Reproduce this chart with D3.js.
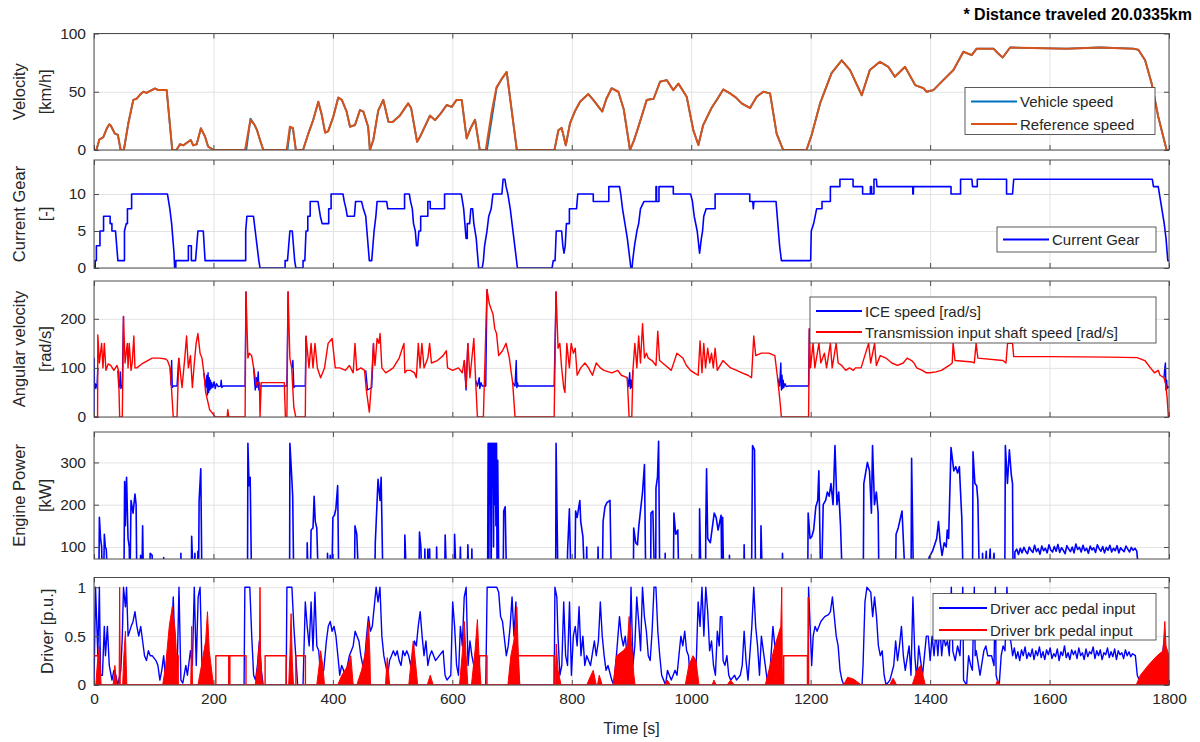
<!DOCTYPE html>
<html>
<head>
<meta charset="utf-8">
<script src="https://cdn.jsdelivr.net/npm/d3@7"></script>
<style>
  body { margin: 0; background: #fff; }
  svg { font-family: "Liberation Sans", Arial, Helvetica, sans-serif; }
</style>
</head>
<body>
<svg id="chart" width="1200" height="742"></svg>
<script>
// ---- tick labels ----
const timeTicks = [0, 200, 400, 600, 800, 1000, 1200, 1400, 1600, 1800];
const velTicks = [0, 50, 100];
const gearTicks = [0, 5, 10];
const omegaTicks = [0, 100, 200];
const powerTicks = [100, 200, 300];
const pedalTicks = [0, 0.5, 1];

// ---- series, [time s, value] ----
const refSpeed = [[0,0],[4,0],[9,9],[15.6,11],[21,18],[25.5,22],[28,21],[35,14],[40,13],[44.6,0],[50,0],[57.5,23],[65.8,43],[71.4,44],[78,48],[82.6,50],[88,49],[95,51],[102,52.8],[108,51.4],[121.7,51.4],[131,0],[138,0],[144,5],[149.6,4],[155,6],[162,8.6],[166,4],[172,5],[179,18.6],[186,11.4],[191,3],[200,0],[253,0],[262,26],[269,21.4],[273,17],[278,8.6],[283.5,0],[322.6,0],[328,20],[333,19],[338,0],[350,0],[359,14.3],[367,25.7],[375.6,41.4],[381,31],[387,14.9],[392,16],[400.7,28.6],[409,45],[415,43],[423,32.9],[428.7,20],[437,21.4],[445.4,34.3],[451,33],[459,20],[462,0],[467.7,8.6],[476,34],[484.4,43],[493,24.3],[500,24],[512,29.5],[526,40],[531,36],[541,7],[546,11.4],[562.6,29.5],[571,25.7],[580,31],[590.6,38.6],[599,37],[607,43],[615.7,43],[624,10],[630,18],[638,26],[646,0],[656,0],[666,32.9],[674,54],[682.7,61],[691,67],[708,0],[771,0],[777.6,17],[783,19],[790,4],[797,22.8],[805,33],[813.8,41.4],[827.7,48],[836,43],[845,37],[851,33],[858,44],[866.8,53],[878,50],[887,35],[897.5,0],[904,8],[911,19],[925.5,43],[937,44],[947.8,58.6],[959,60],[970,51.4],[978.5,57],[992.4,45.7],[1003.5,17],[1012,4.3],[1020,21.4],[1034,36],[1044,44],[1053.7,52],[1065,48.6],[1075,45],[1084.5,40],[1098.5,36],[1109.6,45.7],[1120.7,50],[1132,48.6],[1143,14],[1154,0],[1193,0],[1201.7,13],[1215.7,40],[1235,66],[1252,77],[1266,68.6],[1285.5,47],[1299,68.6],[1316,75.7],[1330,71.4],[1341,62.9],[1358,71.4],[1375,55.7],[1389,53],[1394,50],[1405.5,51.4],[1422,60],[1439,68.6],[1455.7,84.3],[1469.6,81.4],[1478,87],[1506,87],[1514,82.9],[1521.5,79.4],[1534,88],[1573,87.5],[1628.7,87],[1684.5,88],[1740,87],[1748.7,86],[1760,77],[1771,57],[1782,28.6],[1796,0],[1800,0]];

const vehicleSpeed = [[0,0],[4,0],[9,9],[15.6,11],[21,18],[25.5,22],[28,21],[35,14],[40,13],[44.6,0],[50,0],[57.5,23],[65.8,43],[71.4,44],[78,48],[82.6,50],[88,49],[95,51],[102,52.8],[108,51.4],[121.7,51.4],[131,0],[138,0],[144,5],[149.6,4],[155,6],[162,8.6],[166,4],[172,5],[179,18.6],[186,11.4],[191,3],[200,0],[255,0],[262,27],[269,21.4],[273,17],[278,8.6],[283.5,0],[324,0],[328.5,19],[333,19],[338,0],[350,0],[359,14.3],[367,25.7],[375.6,41.4],[381,31],[387,14.9],[392,16],[400.7,28.6],[409,45],[415,43],[423,32.9],[428.7,20],[437,21.4],[445.4,34.3],[451,33],[459,20],[462,0],[467.7,8.6],[476,34],[484.4,43],[493,24.3],[500,24],[512,29.5],[526,40],[531,36],[541,7],[546,11.4],[562.6,29.5],[571,25.7],[580,31],[590.6,38.6],[599,37],[607,43],[615.7,43],[624,10],[630,18],[638,26],[646,0],[658,0],[667,30],[674,53],[682.7,61],[691,67],[708,0],[771,0],[777.6,17],[783,19],[790,4],[797,22.8],[805,33],[813.8,41.4],[827.7,48],[836,43],[845,37],[851,33],[858,44],[866.8,53],[878,50],[887,35],[897.5,0],[904,8],[911,19],[925.5,43],[937,44],[947.8,58.6],[959,60],[970,51.4],[978.5,57],[992.4,45.7],[1003.5,17],[1012,4.3],[1020,21.4],[1034,36],[1044,44],[1053.7,52],[1065,48.6],[1075,45],[1084.5,40],[1098.5,36],[1109.6,45.7],[1120.7,50],[1132,48.6],[1143,14],[1154,0],[1193,0],[1201.7,13],[1215.7,40],[1235,66],[1252,77],[1266,68.6],[1285.5,47],[1299,68.6],[1316,75.7],[1330,71.4],[1341,62.9],[1358,71.4],[1375,55.7],[1389,53],[1394,50],[1405.5,51.4],[1422,60],[1439,68.6],[1455.7,84.3],[1469.6,81.4],[1478,87],[1506,87],[1514,82.9],[1521.5,79.4],[1534,88],[1573,87.5],[1628.7,87],[1684.5,88],[1740,87],[1748.7,86],[1760,77],[1771,57],[1782,28.6],[1796,0],[1800,0]];

const currentGear = [[0,0],[2,0],[2,1],[4,1],[4,3],[10,3],[10,5],[16,5],[16,7],[27,7],[27,6],[30,6],[30,5],[36,5],[38,3],[40,1],[51,1],[51,5],[54,6],[56,6],[56,8],[63,8],[63,10],[123,10],[127,8],[130,6],[132,4],[134,2],[135,0],[137,0],[137,1],[158,1],[158,3],[163,3],[163,1],[170,1],[172,3],[174,5],[183,5],[186,1],[254,1],[254,5],[256,7],[267,7],[270,5],[273,3],[276,1],[278,0],[320,0],[320,1],[324,1],[326,3],[328,5],[332,5],[334,3],[336,1],[338,0],[350,0],[350,1],[353,1],[355,5],[358,5],[358,7],[362,7],[362,9],[375,9],[377,8],[379,7],[382,6],[393,6],[393,8],[397,8],[397,10],[417,10],[419,9],[422,8],[424,7],[436,7],[438,9],[448,9],[451,8],[455,7],[457,5],[459,3],[461,1],[465,1],[467,3],[469,5],[472,7],[474,9],[490,9],[492,8],[520,8],[520,10],[528,10],[530,9],[533,8],[535,6],[538,5],[540,3],[542,3],[544,5],[547,5],[547,7],[559,7],[559,9],[563,9],[563,8],[587,8],[587,10],[615,10],[617,9],[619,8],[621,6],[623,4],[625,4],[625,6],[629,6],[631,8],[634,8],[636,6],[640,4],[642,2],[644,0],[650,0],[652,1],[654,3],[658,5],[661,7],[665,8],[668,10],[683,10],[685,12],[688,12],[690,11],[693,10],[697,8],[700,6],[703,4],[706,2],[709,0],[767,0],[769,1],[772,1],[774,5],[783,5],[785,3],[787,2],[789,3],[791,6],[796,6],[796,8],[808,8],[810,10],[836,10],[836,9],[862,9],[862,11],[880,11],[882,10],[885,8],[889,6],[893,4],[896,2],[899,0],[901,0],[902,1],[905,3],[909,5],[912,6],[915,8],[921,9],[941,9],[941,11],[942,11],[942,9],[946,9],[946,11],[970,11],[970,10],[999,10],[1002,9],[1005,7],[1010,5],[1014,2],[1017,4],[1019,5],[1021,7],[1025,8],[1040,8],[1040,10],[1098,10],[1098,9],[1103,9],[1104,8],[1105,9],[1142,9],[1145,6],[1148,3],[1151,1],[1200,1],[1201,5],[1205,6],[1210,8],[1219,8],[1219,9],[1233,9],[1233,11],[1249,11],[1249,12],[1271,12],[1271,11],[1287,11],[1287,10],[1300,10],[1300,11],[1302,11],[1302,10],[1306,10],[1306,12],[1310,12],[1311,11],[1371,11],[1371,10],[1372,10],[1372,11],[1435,11],[1435,10],[1451,10],[1451,12],[1470,12],[1471,11],[1479,11],[1479,12],[1528,12],[1528,10],[1538,10],[1540,12],[1772,12],[1774,11],[1782,11],[1784,10],[1788,8],[1792,6],[1795,4],[1798,1],[1800,1]];

const shaftSpeed = [[0,0],[6,0],[6.4,167],[9,110],[12.8,150],[15,100],[17.3,150],[20,95],[23.7,108],[28,105],[33.3,95],[38.5,105],[41,95],[43,0],[47.4,0],[49.4,205],[52,110],[55.8,150],[57,100],[59,150],[62,95],[64,110],[66.7,165],[68.6,100],[71.8,100],[80,108],[90,115],[97.4,120],[110,120],[120,118],[123,115],[127.6,100],[132.7,0],[139,0],[142,120],[147.4,60],[152,120],[155,165],[158,100],[161.5,125],[164.7,60],[168,110],[171,150],[174,170],[177.6,130],[180.8,120],[184,90],[187,50],[193.6,15],[200,5],[203,0],[223,0],[224,15],[225.6,0],[253,0],[254.5,255],[257.7,120],[260,130],[264,125],[267.3,100],[271.8,65],[273.7,70],[277,70],[278,0],[280,70],[318.6,70],[320.5,0],[323,0],[325,255],[328,120],[331,100],[334.6,20],[337.8,0],[353.8,0],[355,165],[360,100],[363.5,150],[366.7,100],[370,150],[374,100],[379.5,80],[386,100],[392,150],[398.7,160],[404,100],[411.5,100],[421,95],[427.6,105],[434,90],[437,150],[440,95],[446.8,100],[453,95],[456,55],[461,10],[464,60],[468,150],[470.5,105],[474,160],[477,150],[479,170],[482,100],[488.5,90],[495,95],[501,100],[511,120],[519,150],[520.5,90],[523.7,95],[530,95],[536.5,90],[539.7,80],[543,150],[546,100],[549,150],[552.6,100],[559,120],[562,150],[565,110],[575,115],[584.6,125],[590,135],[592,100],[600.6,95],[610,100],[616.7,90],[620,115],[623,60],[626,150],[629.5,80],[636,160],[639,75],[642,0],[652,0],[658,260],[662,230],[665,220],[668,210],[671,180],[674,170],[677.6,125],[684,135],[690,150],[695.5,120],[698.7,90],[701,70],[705,0],[770.5,0],[773.7,255],[777,140],[780,150],[783,100],[786.5,60],[788.5,50],[791.7,150],[796,100],[799,150],[802.6,130],[805.8,140],[809,85],[815,100],[822,110],[828,100],[834.6,85],[841,110],[847.8,100],[854,95],[867,90],[877,95],[883,85],[892.8,80],[896,0],[900.5,0],[902.4,95],[905.6,150],[909,100],[912,165],[915,110],[918.5,190],[921.7,120],[925,130],[928,120],[934.5,115],[941,105],[944,175],[947,115],[957,105],[966.6,95],[976,130],[986,120],[992,105],[998.7,95],[1005,90],[1011.6,85],[1014.8,155],[1018,90],[1021,150],[1024,100],[1027.6,140],[1031,110],[1034,130],[1037,100],[1040,140],[1043.7,95],[1053,115],[1066,100],[1076,95],[1085,90],[1095,85],[1101,80],[1104.7,165],[1108,125],[1117.5,130],[1130,130],[1140,125],[1144.5,80],[1148,40],[1151,0],[1196.5,0],[1197.8,180],[1199.7,100],[1204,150],[1207,100],[1213.8,150],[1217,110],[1223,130],[1226.6,100],[1233,150],[1236,100],[1242.7,150],[1246,110],[1252,105],[1258.7,95],[1265,100],[1271.6,95],[1275,100],[1284.4,100],[1297,150],[1300.5,110],[1307,150],[1310,105],[1316.5,125],[1326,120],[1335.8,110],[1345.4,105],[1355,110],[1361.5,120],[1369,115],[1373,110],[1377.5,100],[1387,95],[1393.6,90],[1400,90],[1409.6,92],[1419,95],[1432,105],[1437,110],[1438.5,150],[1441.7,115],[1470.6,112],[1474,110],[1477,150],[1480,120],[1522,115],[1527,110],[1529.7,150],[1538,150],[1540,123],[1600,123],[1700,122],[1746.7,121],[1759.5,115],[1769,100],[1775.6,90],[1782,95],[1785,85],[1791.6,80],[1794.8,65],[1796.8,40],[1799,0],[1800,0]];

// ICE speed only where it leaves the shaft speed (null = hidden under it)
const iceSpeed = [[0,0],[0.2,120],[0.8,60],[2,68],[3,58],[4,66],[5,62],[6.4,100],[6.4,null],
  [40,95],[41.5,60],[43,65],[44,92],[45,58],[46,63],[47.4,63],[49.4,205],[49.4,null],
  [127.6,100],[129,65],[130,115],[131,60],[133,63],[139,63],[142,120],[142,null],
  [184,90],[187,60],[189,85],[190,45],[191,90],[192,50],[193,80],[194,55],[195,75],[196,58],[197,70],[199,60],[201,72],[203,58],[205,68],[208,62],[212,63],[213,75],[214,60],[216,63],[253,63],[254.5,255],[254.5,null],
  [267.3,100],[270,55],[272,80],[273,60],[275,92],[276,55],[277,63],[323,63],[325,255],[325,null],
  [331,100],[333,115],[334.6,60],[337,63],[353.8,63],[355,165],[355,null],
  [455,95],[458,55],[462,58],[465,60],[468,150],[468,null],
  [620,115],[623,55],[626,150],[626,null],
  [639,75],[642,63],[645,80],[646,58],[648,70],[650,63],[656,63],[658,260],[658,null],
  [701,70],[705,63],[707,115],[708,60],[709,70],[710,63],[770.5,63],[773.7,255],[773.7,null],
  [892.8,80],[895,62],[897,90],[898,58],[899,75],[900.5,60],[902.4,95],[902.4,null],
  [1144.5,80],[1148,63],[1150,110],[1151,55],[1152,85],[1153,58],[1154,75],[1155,60],[1157,68],[1159,62],[1162,63],[1196.5,63],[1197.8,180],[1197.8,null],
  [1791.6,80],[1793,100],[1794,110],[1795,55],[1796,75],[1797,58],[1798,62],[1800,60]];

const enginePower = [[0,0],[8,0],[9,170],[11,120],[12.8,100],[14,0],[16,0],[17.3,130],[19,100],[20.5,95],[23.7,0],[50,0],[51.3,255],[52.5,150],[54.5,265],[57,120],[59,100],[60,0],[61,100],[62,210],[65.4,180],[68.6,225],[70.5,200],[71.8,0],[77,0],[78,80],[80,0],[81.4,150],[83,0],[93,0],[94,85],[97.4,80],[98,0],[116,0],[116.7,75],[117.5,0],[145,0],[145.5,85],[146,0],[163,0],[163.5,125],[166.7,0],[169,85],[170,0],[173,0],[174,90],[175,0],[176,210],[178.8,285],[180.8,0],[257,0],[257.7,345],[259.6,245],[261.5,265],[264,0],[327.5,0],[328,345],[330,295],[332.7,220],[334.6,0],[356.5,0],[357,110],[359,0],[362,0],[363.5,140],[366.7,145],[368.6,220],[370.5,160],[373,145],[376,0],[390,0],[391,85],[393,0],[395,0],[395.5,80],[398,0],[400,170],[402.6,175],[405,190],[408,245],[410,0],[436,0],[437,150],[440,130],[443.6,0],[470,0],[471,110],[472.4,155],[475.6,260],[479,210],[480.8,265],[484,0],[520,0],[520.5,128],[523.7,0],[544,0],[545,135],[547.4,100],[549,0],[553,0],[554,95],[555,0],[558,0],[559,95],[560,0],[561,0],[562,95],[563,0],[573,0],[573.7,100],[575,0],[587,0],[588,128],[591,0],[603,0],[603.8,130],[607,0],[612,0],[613.5,100],[615,0],[625,0],[626,105],[628,0],[632,0],[632.7,95],[634,0],[659,0],[660,345],[661,0],[662,345],[663,200],[664,345],[665,0],[666,345],[667,250],[668,345],[669,100],[670,345],[671,200],[672,345],[673,150],[674,345],[675,0],[676,305],[678,0],[685,0],[686,185],[688.5,195],[691,0],[773,0],[773.7,345],[777,0],[792,0],[793,90],[796,190],[799,0],[805,0],[806.4,185],[809,170],[813.5,210],[815,160],[818.6,125],[822,0],[824,0],[825,100],[826,0],[843,0],[844,100],[845,0],[851,0],[852.4,160],[855.6,195],[858.8,205],[864,210],[866.5,0],[903,0],[903.7,145],[907,110],[910,105],[912,145],[914.6,180],[918.5,230],[921.7,295],[924,0],[932,0],[932.6,180],[935.8,185],[939,0],[940.5,0],[941,240],[943.5,265],[945.4,350],[947.4,0],[956,0],[956.4,85],[957,0],[970,0],[971,180],[974,130],[977.5,140],[979.5,0],[1013.5,0],[1014,190],[1016.7,0],[1024,0],[1024.4,150],[1025.7,285],[1027.6,120],[1032,110],[1038.5,180],[1041.7,170],[1045,140],[1050,175],[1051.3,0],[1052,0],[1052.6,170],[1054.6,0],[1063.5,0],[1064,80],[1065,0],[1088,0],[1088.6,105],[1090,0],[1101,0],[1101.4,110],[1102.7,340],[1106,330],[1107.8,0],[1116,0],[1116.8,150],[1119.4,0],[1152,0],[1152.8,85],[1154,0],[1195,0],[1195.8,180],[1199,120],[1202,125],[1205,140],[1208.6,195],[1211.8,210],[1213.7,280],[1217,0],[1218,0],[1221,200],[1225,210],[1228,230],[1231,220],[1234,250],[1237.5,200],[1240.7,340],[1244,200],[1247,230],[1250,150],[1253.5,0],[1288,0],[1289,250],[1295,300],[1298.5,280],[1301.7,180],[1303.6,340],[1306.8,200],[1310,230],[1313,180],[1314.5,0],[1342,0],[1343,130],[1346.6,145],[1353,185],[1359,0],[1368,0],[1369,310],[1372.3,0],[1397,0],[1398,75],[1404,90],[1411,120],[1414,160],[1417,110],[1420,80],[1423.6,110],[1427,100],[1428.7,140],[1431,120],[1435,335],[1439.7,280],[1443,290],[1446,275],[1449,290],[1450.6,240],[1453,170],[1455.7,0],[1471,0],[1471.8,325],[1475,250],[1478,245],[1480,210],[1482.7,0],[1487,0],[1487.8,85],[1490,0],[1494,90],[1496,0],[1500.6,95],[1502,0],[1507,85],[1509,0],[1525,0],[1526,340],[1529.5,250],[1532.7,330],[1536,270],[1538,250],[1539,0],[1541,0],[1542,88],[1545,95],[1548,82],[1551,97],[1554,86],[1557,99],[1560,90],[1563,84],[1566,100],[1569,92],[1572,87],[1575,104],[1578,89],[1581,96],[1584,83],[1587,102],[1590,91],[1593,97],[1596,86],[1599,105],[1602,93],[1605,88],[1608,101],[1611,90],[1614,106],[1617,87],[1620,98],[1623,92],[1626,84],[1629,103],[1632,95],[1635,89],[1638,100],[1641,86],[1644,107],[1647,94],[1650,99],[1653,88],[1656,104],[1659,91],[1662,97],[1665,85],[1668,102],[1671,93],[1674,98],[1677,87],[1680,105],[1683,96],[1686,90],[1689,101],[1692,86],[1695,99],[1698,92],[1701,104],[1704,88],[1707,97],[1710,91],[1713,103],[1716,86],[1719,98],[1722,93],[1725,89],[1728,102],[1731,95],[1734,88],[1737,99],[1740,92],[1743,97],[1746,90],[1748,60],[1750,0],[1800,0]];

const accPedal = [[0,0],[2.6,1],[6.4,0.3],[9,1],[10.9,0.1],[14.1,0.1],[17.3,0.6],[19.2,0.3],[22.4,0.6],[25.6,0.2],[30.1,0.05],[33.3,0.15],[36.5,0.1],[39.7,0],[44.9,0.15],[47.4,0.5],[49.4,1],[52.6,0.8],[54.5,1],[57.1,0.5],[62.2,0.6],[65.4,0.65],[68.6,0.75],[71.8,0.6],[75,0.5],[78.2,0.6],[81.4,0.45],[84.6,0.3],[87.8,0.25],[91,0.35],[94.2,0.3],[97.4,0.3],[103.8,0.25],[107,0.2],[110.3,0.05],[113.5,0.15],[116.7,0.3],[119.9,0.05],[123.1,0.1],[126.3,0],[129.5,0.4],[132.7,0.9],[135.9,0.3],[139.1,0.1],[142.3,1],[145.5,0.05],[148.7,0.02],[153.8,0.2],[156.4,0.1],[161.5,0.35],[164.7,0.2],[167.9,1],[171.2,0.2],[174.4,0.9],[177.6,1],[180.8,0.2],[184,0.1],[187.2,0.3],[190.4,0.2],[193.6,0.1],[196.8,0.02],[200,0],[251.3,0],[252.6,1],[260.9,1],[264.1,0.5],[267.3,0.1],[270.5,0.05],[273.7,0.2],[276.9,0.45],[280.1,0.15],[283.3,0],[321.8,0],[323,1],[331.4,1],[334.6,0.6],[337.8,0.3],[341,0],[350,0],[353.8,0.85],[357,0.6],[360.3,0.4],[363.5,0.85],[366.7,0.35],[369.9,0.95],[373.1,0.4],[376.3,0.35],[379.5,0.1],[384.6,0.15],[389.1,0.45],[392.3,0.6],[395.5,0.65],[398.7,0.55],[401.9,0.6],[405.1,0.5],[408.3,0.3],[411.5,0.1],[414.7,0.2],[417.9,0.15],[421.2,0.05],[424.4,0.2],[427.6,0.3],[434,0.4],[437.2,0.55],[440.4,0.5],[443.6,0.45],[446.8,0.3],[450,0.2],[453.2,0.25],[456.4,0.5],[459.6,0.7],[462.8,0.55],[466,0.6],[469.2,0.8],[472.4,1],[475.6,0.85],[478.8,1],[482,0.5],[485.3,0.3],[488.5,0.2],[491.7,0.1],[494.9,0.25],[498.1,0.3],[501.3,0.35],[504.5,0.3],[507.7,0.35],[510.9,0.25],[514.1,0.2],[517.3,0.35],[520.5,0.3],[523.7,0.35],[526.9,0.3],[530.1,0.2],[533.3,0.3],[536.5,0.45],[539.7,0.4],[542.9,0.6],[546.2,0.75],[549.4,0.5],[552.6,0.3],[555.8,0.45],[559,0.2],[562.2,0.3],[565.4,0.35],[571.8,0.25],[578.2,0.3],[584.6,0.35],[587.8,0.1],[591,0.05],[597.4,0.1],[600.6,0.85],[603.8,0.6],[607.1,0.2],[610.3,0.1],[613.5,0.6],[616.7,0.4],[619.9,0.9],[623.1,1],[626.3,0.2],[629.5,0.45],[632.7,0.3],[635.9,0.2],[639.1,0.05],[642.3,0],[656,0],[658.3,1],[674.4,1],[677.6,0.95],[680.8,0.7],[684,0.65],[690.4,0.3],[693.6,0.4],[696.8,0.6],[700,0.9],[703.2,0.5],[706.4,0.85],[709.6,0.1],[712.8,0],[770.5,0],[771.8,1],[775,0.9],[776.9,0.5],[780.1,0.1],[783.3,0.2],[786.5,0.85],[789.7,0.3],[792.9,0.2],[796.2,0.85],[799.4,0.1],[802.6,0.5],[805.8,0.6],[809,0.4],[812.2,0.8],[815.4,0.3],[818.6,0.5],[821.8,0.2],[825,0.3],[831.4,0.2],[837.8,0.45],[841,0.3],[844.6,0.45],[847.8,0.85],[851,0.5],[854.2,0.3],[857.4,0.15],[860.6,0.2],[867,0.05],[870.3,0],[875.4,0.35],[879.9,0.7],[883.1,0.5],[886.3,0.4],[889.5,0.5],[892.7,0.3],[896,0.15],[899.2,1],[902.4,0.2],[905.6,0.4],[908.8,0.9],[912,0.65],[915.2,0.35],[918.4,1],[921.6,0.7],[924.9,0.55],[928.1,0.3],[931.3,0.25],[934.5,0.55],[937.7,1],[940.9,1],[944.1,0.55],[947.3,0.3],[950.5,0.1],[953.8,0.05],[957,0],[960.2,0.15],[963.4,0.1],[966.6,0.05],[973,0.15],[976.2,0.1],[979.4,0.3],[982.7,0.5],[985.9,0.4],[989.1,0.55],[992.3,0.35],[995.5,0.3],[998.7,0.02],[1005.1,0],[1008.3,0.2],[1011.6,0.85],[1014.8,0.6],[1018,1],[1021.2,0.5],[1024.4,1],[1027.6,0.75],[1030.8,0.35],[1034,0.45],[1037.3,0.2],[1040.5,0.1],[1043.7,0.55],[1046.9,0.4],[1048.8,0.7],[1051.4,0.7],[1053.3,0.25],[1056.5,0.2],[1059.7,0.3],[1062.9,0.1],[1066.2,0.05],[1072.6,0.1],[1075.8,0.05],[1082.2,0.1],[1085.4,0.2],[1088.6,0.55],[1091.8,0.25],[1095.1,0.05],[1101.5,0.6],[1104.7,1],[1107.9,0.6],[1111.1,0.4],[1114.3,0.1],[1117.5,0.5],[1120.7,0.35],[1124,0.2],[1127.2,0.05],[1130.4,0],[1136.8,0.6],[1140,0.4],[1143.2,0.1],[1146.4,0],[1196,0],[1196.5,1],[1199.1,0.6],[1201.7,0.2],[1204.2,0.5],[1207.4,0.6],[1210.7,0.55],[1217.1,0.65],[1223.5,0.7],[1229.9,0.72],[1233.1,0.75],[1236.4,0.9],[1239.6,0.7],[1242.8,0.5],[1246,0.4],[1249.2,0.15],[1252.4,0.05],[1255.6,0],[1286,0],[1287.7,0.2],[1290.9,0.85],[1294.2,1],[1300.6,0.95],[1303.8,0.7],[1307,0.9],[1310.2,0.7],[1313.4,0.4],[1316.6,0.3],[1319.8,0.35],[1323,0.1],[1326.3,0],[1332.7,0.05],[1339.1,0.2],[1342.3,0.45],[1345.5,0.25],[1348.7,0.4],[1352,0.6],[1355.2,0.3],[1358.4,0.15],[1364.8,0.4],[1368,0.1],[1371.2,0.9],[1374.4,0.3],[1377.6,0.05],[1380.9,0.4],[1384.1,0.25],[1387.3,0.1],[1390.5,0.3],[1393.7,0.5],[1396.9,0.5],[1400.1,0.25],[1403.3,0.5],[1406.6,0.3],[1409.8,0.55],[1413,0.3],[1416.2,0.6],[1419.4,0.3],[1422.6,0.5],[1425.8,0.4],[1429,0.45],[1432.2,0.3],[1435.5,1],[1438,0.35],[1442,0.25],[1446,0.4],[1450,0.3],[1454.7,1],[1456,0.05],[1461.1,0],[1464.4,0.3],[1468,0.2],[1470.8,0.15],[1474,1],[1475.5,0.3],[1477.2,0.35],[1483.6,0.1],[1490,0.35],[1493.3,0.4],[1496.5,0.3],[1502.9,0.3],[1507,0.2],[1509.3,1],[1510.5,0.1],[1512.5,0.05],[1515.7,0],[1519,0.3],[1522.2,0.4],[1525.4,0.35],[1528.6,1],[1532,0.5],[1535,0.45],[1538.2,0.3],[1541,0.38],[1544,0.27],[1547,0.34],[1550,0.25],[1553,0.36],[1556,0.3],[1559,0.39],[1562,0.27],[1565,0.33],[1568,0.29],[1571,0.37],[1574,0.26],[1577,0.35],[1580,0.3],[1583,0.39],[1586,0.28],[1589,0.34],[1592,0.26],[1595,0.36],[1598,0.31],[1601,0.38],[1604,0.27],[1607,0.32],[1610,0.29],[1613,0.37],[1616,0.25],[1619,0.34],[1622,0.3],[1625,0.4],[1628,0.28],[1631,0.33],[1634,0.26],[1637,0.36],[1640,0.31],[1643,0.35],[1646,0.27],[1649,0.38],[1652,0.3],[1655,0.33],[1658,0.26],[1661,0.37],[1664,0.29],[1667,0.34],[1670,0.32],[1673,0.39],[1676,0.27],[1679,0.35],[1682,0.3],[1685,0.36],[1688,0.26],[1691,0.33],[1694,0.31],[1697,0.38],[1700,0.28],[1703,0.34],[1706,0.29],[1709,0.37],[1712,0.26],[1715,0.35],[1718,0.31],[1721,0.33],[1724,0.27],[1727,0.36],[1730,0.3],[1733,0.34],[1736,0.29],[1739,0.32],[1743.7,0.3],[1746.9,0.1],[1753.3,0],[1759.8,0.05],[1769.4,0.1],[1782.3,0.15],[1788.7,0.3],[1791.9,0.45],[1795.1,0.3],[1800,0.2]];

// brake pedal: hold level while stopped, plus dense braking bursts (envelope)
const brakeHold = [[0,0.3],[7,0.3],[7,0],[126,0],[126,0.3],[141,0.3],[141,0],[204,0],[204,0.3],[225.6,0.3],[225.6,0],[227.5,0],[227.5,0.3],[254.5,0.3],[254.5,0],[286.5,0],[286.5,0.3],[321.8,0.3],[321.8,0],[338,0],[338,0.3],[354,0.3],[354,0],[645.5,0],[645.5,0.3],[658,0.3],[658,0],[709.6,0],[709.6,0.3],[770.5,0.3],[770.5,0],[1154.8,0],[1154.8,0.3],[1194.6,0.3],[1194.6,0],[1800,0]];

const brakeBursts = [[0,0],[3,0],[6,0.25],[9,0.4],[11,0.1],[12,0],[32,0],[35,0.2],[38,0],[42,0],[43,1],[44,0],[48,0],[50,0.3],[52.6,0.55],[54,0.2],[55,0],[115,0],[120,0.2],[126,0.6],[131,0.8],[136,0.55],[139,0.2],[140,0],[162,0],[163.5,0.6],[165,0],[174,0],[180,0.2],[187,0.45],[190,0.75],[193,0.35],[198,0.1],[200,0],[270,0],[274,0.2],[277,0.45],[278,1],[279,0.3],[282,0],[326,0],[328,0.3],[330,0.73],[332,0.25],[334,0],[373,0],[377,0.2],[379.5,0.35],[383,0.2],[386,0],[408,0],[415,0.1],[425,0.2],[430,0.3],[434,0],[440,0],[448,0.15],[455,0.35],[459.6,0.65],[462,0.3],[463,0],[488,0],[491,0.28],[495,0],[527,0],[532,0.3],[534.6,0.45],[538,0.25],[542,0],[558,0],[563,0.1],[568,0],[612,0],[617,0.35],[620,0.65],[623,0.3],[626,0],[632,0],[638,0.35],[642,0.67],[645,0.25],[648,0],[693,0],[698,0.3],[703,0.45],[708,0.8],[710,0.4],[713,0],[772,0],[774,0.42],[777,0.15],[782,0],[825,0],[832,0.1],[836,0.15],[841,0],[843,0],[846,0.1],[851,0],[869,0],[875,0.3],[886,0.35],[893,0.4],[896,0.7],[899,0.5],[904,0.1],[906,0],[955,0],[960,0.05],[965,0],[990,0],[996,0.2],[1003,0.3],[1008,0.25],[1013,0],[1035,0],[1038,0.05],[1042,0],[1060,0],[1066,0.05],[1072,0],[1124,0],[1132,0.2],[1140,0.4],[1145,0.5],[1150,0.6],[1151.6,1],[1152.5,0.2],[1153,0],[1195,0],[1196,0.9],[1197,0],[1255,0],[1262,0.08],[1272,0.06],[1285,0],[1332,0],[1338,0.07],[1344,0],[1370,0],[1378,0.15],[1384,0.2],[1392,0],[1510,0],[1513,0.05],[1517,0],[1745,0],[1752,0.1],[1765,0.2],[1780,0.3],[1790,0.35],[1793,0.65],[1795,0.4],[1800,0.3]];

// ---- drawing ----
const svg = d3.select("#chart");
const x = d3.scaleLinear().domain([0, 1800]).range([94, 1169]);
const plotW = x(1800) - x(0);
const axisColor = "#4d4d4d";
const textColor = "#262626";

const panels = [
  { top: 33.5, bottom: 150, domain: [0, 100], ticks: velTicks, label: ["Velocity", "[km/h]"] },
  { top: 160, bottom: 268, domain: [0, 14.6], ticks: gearTicks, label: ["Current Gear", "[-]"] },
  { top: 281, bottom: 417, domain: [0, 277], ticks: omegaTicks, label: ["Angular velocity", "[rad/s]"] },
  { top: 432, bottom: 559, domain: [71.5, 372], ticks: powerTicks, label: ["Engine Power", "[kW]"] },
  { top: 577.5, bottom: 685, domain: [0, 1.1], ticks: pedalTicks, label: ["Driver [p.u.]"] },
];

const defs = svg.append("defs");

function setupPanel(p, i) {
  const h = p.bottom - p.top;
  p.y = d3.scaleLinear().domain(p.domain).range([p.bottom, p.top]);

  defs.append("clipPath").attr("id", "clip" + i)
    .append("rect").attr("x", x(0)).attr("y", p.top).attr("width", plotW).attr("height", h);

  // grid
  svg.append("g")
    .attr("transform", `translate(0,${p.bottom})`)
    .call(d3.axisBottom(x).tickValues(timeTicks).tickSize(-h).tickFormat(""))
    .call((g) => g.select(".domain").remove())
    .selectAll("line").attr("stroke", "#e3e3e3");
  svg.append("g")
    .attr("transform", `translate(${x(0)},0)`)
    .call(d3.axisLeft(p.y).tickValues(p.ticks).tickSize(-plotW).tickFormat(""))
    .call((g) => g.select(".domain").remove())
    .selectAll("line").attr("stroke", "#e3e3e3");

  p.plot = svg.append("g").attr("clip-path", `url(#clip${i})`);
  p.line = d3.line().defined((d) => d[1] != null).x((d) => x(d[0])).y((d) => p.y(d[1]));
}

function drawSeries(p, data, color, width) {
  p.plot.append("path").datum(data)
    .attr("fill", "none").attr("stroke", color)
    .attr("stroke-width", width).attr("stroke-linejoin", "round")
    .attr("d", p.line);
}

function finishPanel(p, i, last) {
  const styleAxis = (g) => {
    g.select(".domain").remove();
    g.selectAll("line").attr("stroke", axisColor);
    g.selectAll("text").attr("fill", textColor).attr("font-size", 15.5)
      .attr("font-family", '"Liberation Sans", Arial, sans-serif');
  };
  svg.append("g").attr("transform", `translate(0,${p.bottom})`)
    .call(d3.axisBottom(x).tickValues(timeTicks).tickSize(-5).tickSizeOuter(0).tickPadding(8)
      .tickFormat(last ? d3.format("d") : ""))
    .call(styleAxis);
  svg.append("g").attr("transform", `translate(0,${p.top})`)
    .call(d3.axisTop(x).tickValues(timeTicks).tickSize(-5).tickSizeOuter(0).tickFormat(""))
    .call(styleAxis);
  svg.append("g").attr("transform", `translate(${x(0)},0)`)
    .call(d3.axisLeft(p.y).tickValues(p.ticks).tickSize(-5).tickSizeOuter(0).tickPadding(8)
      .tickFormat(d3.format("~g")))
    .call(styleAxis);
  svg.append("g").attr("transform", `translate(${x(1800)},0)`)
    .call(d3.axisRight(p.y).tickValues(p.ticks).tickSize(-5).tickSizeOuter(0).tickFormat(""))
    .call(styleAxis);

  svg.append("rect")
    .attr("x", x(0)).attr("y", p.top).attr("width", plotW).attr("height", p.bottom - p.top)
    .attr("fill", "none").attr("stroke", axisColor).attr("stroke-width", 1);

  const mid = (p.top + p.bottom) / 2;
  const xs = p.label.length === 2 ? [19, 45] : [47];
  p.label.forEach((txt, k) => {
    svg.append("text")
      .attr("transform", `translate(${xs[k]},${mid}) rotate(-90)`)
      .attr("text-anchor", "middle").attr("dominant-baseline", "central")
      .attr("font-size", 16.5).attr("fill", textColor)
      .text(txt);
  });
}

function legend(box, items) {
  const g = svg.append("g");
  g.append("rect")
    .attr("x", box.x).attr("y", box.y).attr("width", box.w).attr("height", box.h)
    .attr("fill", "#fff").attr("stroke", "#333").attr("stroke-width", 0.8);
  items.forEach((it, k) => {
    const cy = box.y + box.first + k * box.gap;
    g.append("line")
      .attr("x1", box.x + 6).attr("x2", box.x + 6 + box.lineLen)
      .attr("y1", cy).attr("y2", cy)
      .attr("stroke", it.color).attr("stroke-width", 1.8);
    g.append("text")
      .attr("x", box.x + 9 + box.lineLen).attr("y", cy)
      .attr("dominant-baseline", "central")
      .attr("font-size", 15).attr("fill", textColor)
      .text(it.name);
  });
}

panels.forEach(setupPanel);

// panel 1: velocity
drawSeries(panels[0], vehicleSpeed, "#0072BD", 1.8);
drawSeries(panels[0], refSpeed, "#D95319", 2);

// panel 2: gear
drawSeries(panels[1], currentGear, "#0000FF", 1.6);

// panel 3: angular velocity
drawSeries(panels[2], iceSpeed, "#0000FF", 1.4);
drawSeries(panels[2], shaftSpeed, "#FF0000", 1.4);

// panel 4: engine power
drawSeries(panels[3], enginePower, "#0000FF", 1.6);

// panel 5: pedals
drawSeries(panels[4], accPedal, "#0000FF", 1.4);
const p5 = panels[4];
p5.plot.append("path").datum(brakeBursts)
  .attr("fill", "#FF0000").attr("stroke", "#FF0000").attr("stroke-width", 1)
  .attr("d", d3.area().x((d) => x(d[0])).y0(p5.y(0)).y1((d) => p5.y(d[1])));
drawSeries(p5, brakeHold, "#FF0000", 1.4);

panels.forEach((p, i) => finishPanel(p, i, i === panels.length - 1));

// legends
legend({ x: 965, y: 87.5, w: 190, h: 47, first: 14, gap: 22.5, lineLen: 46 },
  [{ name: "Vehicle speed", color: "#0072BD" }, { name: "Reference speed", color: "#D95319" }]);
legend({ x: 997, y: 227, w: 159, h: 25, first: 12.5, gap: 0, lineLen: 46 },
  [{ name: "Current Gear", color: "#0000FF" }]);
legend({ x: 810, y: 297, w: 346, h: 46, first: 14, gap: 21, lineLen: 46 },
  [{ name: "ICE speed [rad/s]", color: "#0000FF" }, { name: "Transmission input shaft speed [rad/s]", color: "#FF0000" }]);
legend({ x: 933, y: 593.5, w: 223, h: 46.5, first: 14.5, gap: 22, lineLen: 48 },
  [{ name: "Driver acc pedal input", color: "#0000FF" }, { name: "Driver brk pedal input", color: "#FF0000" }]);

// x axis title and top note
svg.append("text")
  .attr("x", (x(0) + x(1800)) / 2).attr("y", 728)
  .attr("text-anchor", "middle").attr("dominant-baseline", "central")
  .attr("font-size", 16).attr("fill", textColor)
  .text("Time [s]");

svg.append("text")
  .attr("x", 1192).attr("y", 20)
  .attr("text-anchor", "end")
  .attr("font-size", 16).attr("font-weight", "bold").attr("fill", "#000")
  .text("* Distance traveled 20.0335km");
</script>
</body>
</html>
